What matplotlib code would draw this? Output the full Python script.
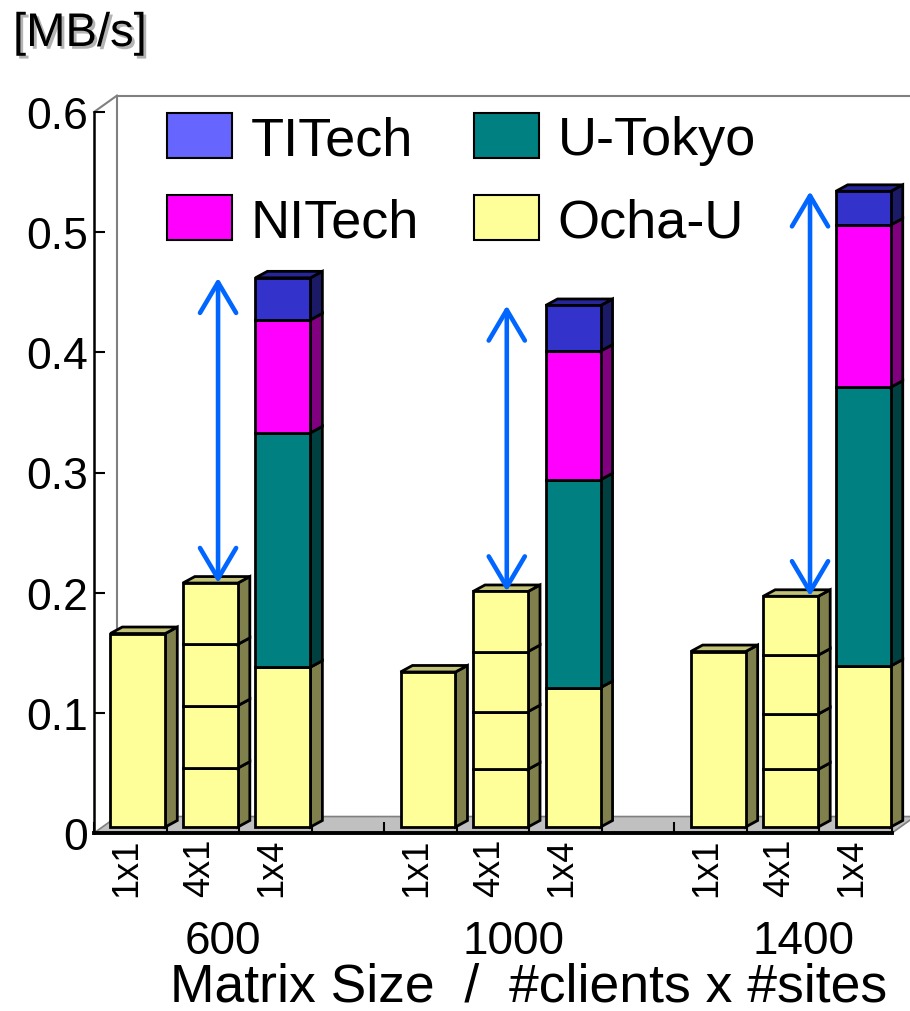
import numpy as np
import matplotlib.pyplot as plt
from matplotlib.patches import Polygon, Rectangle, Patch
import matplotlib.patheffects as pe

plt.rcParams['font.family'] = ['Liberation Sans', 'DejaVu Sans']

# throughput [MB/s] per site, grouped by matrix size
sites = ["TITech", "NITech", "U-Tokyo", "Ocha-U"]
sizes = ["600", "1000", "1400"]
configs = ["1x1", "4x1", "1x4"]

one_by_one = [0.161, 0.129, 0.146]                 # Ocha-U only
four_by_one = [[0.049, 0.052, 0.051, 0.051],       # 4 clients at Ocha-U
               [0.048, 0.048, 0.050, 0.050],
               [0.048, 0.046, 0.049, 0.049]]
ocha = [0.133, 0.116, 0.134]                       # 1x4: one client, 4 sites
utokyo = [0.195, 0.173, 0.232]
nitech = [0.094, 0.107, 0.135]
titech = [0.035, 0.038, 0.028]

front = {"Ocha-U": "#FFFF99", "U-Tokyo": "#008080", "NITech": "#FF00FF", "TITech": "#3333CC"}
side = {"Ocha-U": "#80804D", "U-Tokyo": "#004040", "NITech": "#800080", "TITech": "#1A1A66"}
top = {"Ocha-U": "#C2C276", "U-Tokyo": "#006060", "NITech": "#C000C0", "TITech": "#262699"}
legend_face = {"Ocha-U": "#FFFF99", "U-Tokyo": "#008080", "NITech": "#FF00FF", "TITech": "#6666FF"}

fig = plt.figure(figsize=(9.1, 10.12), dpi=100)
ax = fig.add_axes([94 / 910, (1012 - 834) / 1012, 798 / 910, 721 / 1012])
ncat = 11
ax.set_xlim(0, ncat)
ax.set_ylim(0, 0.6)

# depth of the box (wall/floor) and of each bar, in data units
wx, wy = 0.317, 0.0137
bx, by = 0.165, 0.0054
shift_x, base = 0.225, 0.005
bw = 0.758

# floor and back wall
ax.add_patch(Polygon([(0, 0), (ncat, 0), (ncat + wx, wy), (wx, wy)], closed=True,
                     facecolor="#C0C0C0", edgecolor="#808080", lw=1.2, clip_on=False, zorder=1))
ax.plot([wx, wx, ncat + wx + 1], [wy, 0.6 + wy, 0.6 + wy], color="#808080", lw=1.5,
        clip_on=False, zorder=1)
ax.plot([0, wx], [0.6, 0.6 + wy], color="#808080", lw=1.5, clip_on=False, zorder=1)


def draw_segment(x0, y0, h, name, cap):
    y1 = y0 + h
    x1 = x0 + bw
    kw = dict(edgecolor="black", lw=2.0, clip_on=False, zorder=3, joinstyle="miter")
    ax.add_patch(Polygon([(x1, y0), (x1 + bx, y0 + by), (x1 + bx, y1 + by), (x1, y1)],
                         facecolor=side[name], **kw))
    if cap:
        ax.add_patch(Polygon([(x0, y1), (x1, y1), (x1 + bx, y1 + by), (x0 + bx, y1 + by)],
                             facecolor=top[name], **kw))
    ax.add_patch(Rectangle((x0, y0), bw, h, facecolor=front[name], **kw))


def draw_bar(cat, parts):
    x0 = cat + shift_x
    y = base
    for i, (h, name) in enumerate(parts):
        draw_segment(x0, y, h, name, i == len(parts) - 1)
        y += h
    return y


arrow_x = [1.71, 5.69, 9.87]
for g in range(len(sizes)):
    c = g * 4
    draw_bar(c, [(one_by_one[g], "Ocha-U")])
    top2 = draw_bar(c + 1, [(v, "Ocha-U") for v in four_by_one[g]])
    top3 = draw_bar(c + 2, [(ocha[g], "Ocha-U"), (utokyo[g], "U-Tokyo"),
                            (nitech[g], "NITech"), (titech[g], "TITech")])
    ax.annotate("", xy=(arrow_x[g], top3), xytext=(arrow_x[g], top2),
                arrowprops=dict(arrowstyle="<->,head_length=1.1,head_width=0.65",
                                mutation_scale=20, color="#0066FF", lw=3.3,
                                shrinkA=0, shrinkB=0),
                annotation_clip=False, zorder=5)

# axes
for s in ["top", "right"]:
    ax.spines[s].set_visible(False)
ax.spines["left"].set_linewidth(1.8)
ax.spines["bottom"].set_linewidth(2.8)
ax.spines["bottom"].set_zorder(2)
ax.set_yticks(np.arange(0, 0.61, 0.1))
ax.set_yticklabels(["0", "0.1", "0.2", "0.3", "0.4", "0.5", "0.6"])
ax.tick_params(axis="y", direction="in", length=8, width=1.5, labelsize=32, pad=4)

ax.set_xticks(np.arange(0, ncat + 1))
ax.set_xticklabels([])
ax.tick_params(axis="x", which="major", direction="in", length=8, width=1.5)
cat_labels = []
for g in range(len(sizes)):
    cat_labels += configs + ([""] if g < len(sizes) - 1 else [])
ax.set_xticks(np.arange(ncat) + 0.45, minor=True)
ax.set_xticklabels(cat_labels, minor=True, rotation=90, fontsize=26, va="top")
ax.tick_params(axis="x", which="minor", length=0, pad=3)

for g, name in enumerate(sizes):
    ax.text(g * 4 + 1.78, -0.09, name, fontsize=33, ha="center", va="center",
            clip_on=False)

fig.text(529 / 910, 10 / 1012, "Matrix Size  /  #clients x #sites", fontsize=38.5,
         ha="center", va="baseline")
fig.text(13 / 910, (1012 - 47) / 1012, "[MB/s]", fontsize=34, ha="left", va="baseline",
         path_effects=[pe.SimplePatchShadow(offset=(2, -2), shadow_rgbFace="#A0A0A0", alpha=0.8),
                       pe.Normal()])

handles = [Patch(facecolor=legend_face[n], edgecolor="black", lw=1.5) for n in sites]
ax.legend(handles, sites, ncol=2, loc="upper left", bbox_to_anchor=(167 / 910, 1 - 114 / 1012),
          bbox_transform=fig.transFigure, frameon=False, fontsize=39,
          handlelength=1.2, handleheight=0.9, handletextpad=0.35, columnspacing=1.0,
          labelspacing=0.55, borderpad=0, borderaxespad=0)

fig.savefig("out.png", dpi=100)
